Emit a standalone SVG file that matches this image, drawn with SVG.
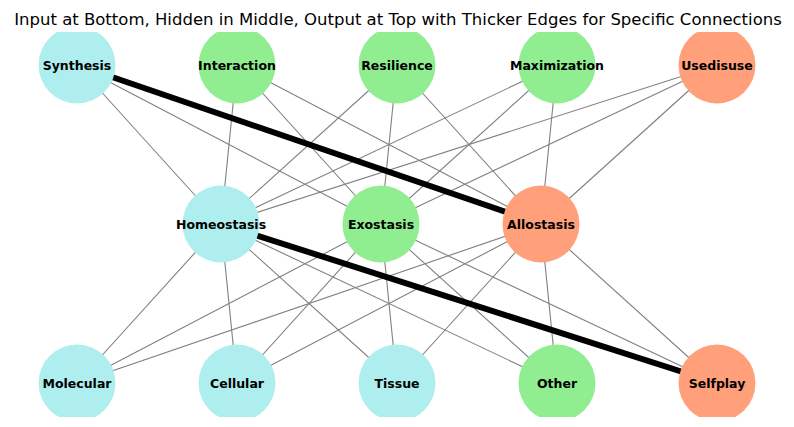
<svg xmlns="http://www.w3.org/2000/svg" width="794" height="427" viewBox="0 0 794 427">
<defs>
<style>
.e{stroke:#808080;stroke-width:1.1;fill:none}
.t{stroke:#000;stroke-width:6;fill:none}
.in{fill:#afeeee}
.hg{fill:#90ee90}
.os{fill:#ffa07a}
.lb{font-family:"DejaVu Sans",sans-serif;font-weight:bold;font-size:12.5px;text-anchor:middle;fill:#000}
.title{font-family:"DejaVu Sans",sans-serif;font-size:16.5px;text-anchor:middle;fill:#000}
</style>
<clipPath id="ax"><rect x="0" y="32" width="794" height="385"/></clipPath>
</defs>
<rect width="794" height="427" fill="#fff"/>
<text class="title" x="398" y="25">Input at Bottom, Hidden in Middle, Output at Top with Thicker Edges for Specific Connections</text>
<g clip-path="url(#ax)">
<g id="connectors">
<line class="e" x1="77" y1="65" x2="221" y2="224"/>
<line class="e" x1="77" y1="65" x2="381" y2="224"/>
<line class="e" x1="237" y1="65" x2="221" y2="224"/>
<line class="e" x1="237" y1="65" x2="381" y2="224"/>
<line class="e" x1="237" y1="65" x2="541" y2="224"/>
<line class="e" x1="397" y1="65" x2="221" y2="224"/>
<line class="e" x1="397" y1="65" x2="381" y2="224"/>
<line class="e" x1="397" y1="65" x2="541" y2="224"/>
<line class="e" x1="557" y1="65" x2="221" y2="224"/>
<line class="e" x1="557" y1="65" x2="381" y2="224"/>
<line class="e" x1="557" y1="65" x2="541" y2="224"/>
<line class="e" x1="717" y1="65" x2="221" y2="224"/>
<line class="e" x1="717" y1="65" x2="381" y2="224"/>
<line class="e" x1="717" y1="65" x2="541" y2="224"/>
<line class="e" x1="77" y1="383" x2="221" y2="224"/>
<line class="e" x1="77" y1="383" x2="381" y2="224"/>
<line class="e" x1="77" y1="383" x2="541" y2="224"/>
<line class="e" x1="237" y1="383" x2="221" y2="224"/>
<line class="e" x1="237" y1="383" x2="381" y2="224"/>
<line class="e" x1="237" y1="383" x2="541" y2="224"/>
<line class="e" x1="397" y1="383" x2="221" y2="224"/>
<line class="e" x1="397" y1="383" x2="381" y2="224"/>
<line class="e" x1="397" y1="383" x2="541" y2="224"/>
<line class="e" x1="557" y1="383" x2="221" y2="224"/>
<line class="e" x1="557" y1="383" x2="381" y2="224"/>
<line class="e" x1="557" y1="383" x2="541" y2="224"/>
<line class="e" x1="717" y1="383" x2="381" y2="224"/>
<line class="e" x1="717" y1="383" x2="541" y2="224"/>
<line class="t" x1="77" y1="65" x2="541" y2="224"/>
<line class="t" x1="221" y1="224" x2="717" y2="383"/>
</g>
<g id="synthesis"><circle class="in" cx="77" cy="65" r="38.5"/><text class="lb" x="77" y="69.5">Synthesis</text></g>
<g id="interaction"><circle class="hg" cx="237" cy="65" r="38.5"/><text class="lb" x="237" y="69.5">Interaction</text></g>
<g id="resilience"><circle class="hg" cx="397" cy="65" r="38.5"/><text class="lb" x="397" y="69.5">Resilience</text></g>
<g id="maximization"><circle class="hg" cx="557" cy="65" r="38.5"/><text class="lb" x="557" y="69.5">Maximization</text></g>
<g id="usedisuse"><circle class="os" cx="717" cy="65" r="38.5"/><text class="lb" x="717" y="69.5">Usedisuse</text></g>
<g id="homeostasis"><circle class="in" cx="221" cy="224" r="38.5"/><text class="lb" x="221" y="228.5">Homeostasis</text></g>
<g id="exostasis"><circle class="hg" cx="381" cy="224" r="38.5"/><text class="lb" x="381" y="228.5">Exostasis</text></g>
<g id="allostasis"><circle class="os" cx="541" cy="224" r="38.5"/><text class="lb" x="541" y="228.5">Allostasis</text></g>
<g id="molecular"><circle class="in" cx="77" cy="383" r="38.5"/><text class="lb" x="77" y="387.5">Molecular</text></g>
<g id="cellular"><circle class="in" cx="237" cy="383" r="38.5"/><text class="lb" x="237" y="387.5">Cellular</text></g>
<g id="tissue"><circle class="in" cx="397" cy="383" r="38.5"/><text class="lb" x="397" y="387.5">Tissue</text></g>
<g id="other"><circle class="hg" cx="557" cy="383" r="38.5"/><text class="lb" x="557" y="387.5">Other</text></g>
<g id="selfplay"><circle class="os" cx="717" cy="383" r="38.5"/><text class="lb" x="717" y="387.5">Selfplay</text></g>
</g>
</svg>
